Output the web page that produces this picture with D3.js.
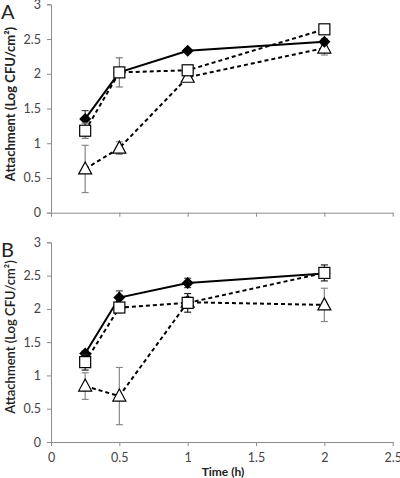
<!DOCTYPE html>
<html><head><meta charset="utf-8">
<script src="https://cdn.jsdelivr.net/npm/d3@7"></script>
<style>body{margin:0;background:#fff}svg{display:block}</style>
</head><body>
<svg id="c" width="400" height="478"></svg>
<script>
const times = [0.25, 0.5, 1, 2];
const xTicks = [0, 0.5, 1, 1.5, 2, 2.5];
const yTicks = [0, 0.5, 1, 1.5, 2, 2.5, 3];
// Panel A
const aDiamond = [1.35, 2.02, 2.33, 2.46];
const aDiamondErr = [0.12, 0.05, 0.03, 0.04];
const aSquare = [1.18, 2.02, 2.05, 2.64];
const aSquareErr = [0.11, 0.21, 0.07, 0.03];
const aTriangle = [0.63, 0.93, 1.95, 2.37];
const aTriangleErr = [0.34, 0.09, 0.06, 0.1];
// Panel B
const bDiamond = [1.33, 2.17, 2.39, 2.53];
const bDiamondErr = [0.04, 0.1, 0.07, 0.05];
const bSquare = [1.2, 2.02, 2.09, 2.54];
const bSquareErr = [0.12, 0.04, 0.14, 0.12];
const bTriangle = [0.84, 0.69, 2.1, 2.06];
const bTriangleErr = [0.2, 0.43, 0.08, 0.25];

const svg = d3.select("#c");
const font = "Lato, 'Open Sans', sans-serif";
const x = d3.scaleLinear().domain([0, 2.5]).range([51, 392.7]);

const panels = [
  {label: "A", top: 4.3, bottom: 212.7, showX: false, bold: true,
   title: "Attachment  (Log CFU/cm²)", tx: 10, ty: 104,
   series: [
     {v: aTriangle, e: aTriangleErr, shape: "tri", dash: "4,3", ec: "#888"},
     {v: aDiamond, e: aDiamondErr, shape: "dia", dash: null, ec: "#444"},
     {v: aSquare, e: aSquareErr, shape: "sq", dash: "4,3", ec: "#777"}]},
  {label: "B", top: 242.3, bottom: 442, showX: true, bold: false,
   title: "Attachment (Log CFU/cm²)", tx: 10, ty: 337,
   series: [
     {v: bTriangle, e: bTriangleErr, shape: "tri", dash: "4,3", ec: "#888"},
     {v: bDiamond, e: bDiamondErr, shape: "dia", dash: null, ec: "#444"},
     {v: bSquare, e: bSquareErr, shape: "sq", dash: "4,3", ec: "#222"}]}
];

panels.forEach(p => {
  const y = d3.scaleLinear().domain([0, 3]).range([p.bottom, p.top]);
  const g = svg.append("g");
  const ya = g.append("g").attr("transform", `translate(${x(0)},0)`)
    .call(d3.axisLeft(y).tickValues(yTicks).tickSize(4).tickPadding(6).tickFormat(d3.format("")));
  ya.select(".domain").attr("stroke", "#8c8c8c");
  ya.selectAll(".tick line").attr("stroke", "#8c8c8c");
  ya.selectAll("text").attr("font-family", font).attr("font-size", 12.5).attr("fill", "#444");
  const xa = g.append("g").attr("transform", `translate(0,${p.bottom})`)
    .call(d3.axisBottom(x).tickValues(xTicks).tickSize(4).tickPadding(7).tickSizeOuter(0).tickFormat(p.showX ? d3.format("") : () => ""));
  xa.select(".domain").attr("stroke", "#8c8c8c");
  xa.selectAll(".tick line").attr("stroke", "#8c8c8c");
  xa.selectAll("text").attr("font-family", font).attr("font-size", 12.5).attr("fill", "#444");

  g.append("text").attr("x", 1).attr("y", p.top + 15).text(p.label)
    .attr("font-family", font).attr("font-size", 20).attr("fill", "#222");
  g.append("text").attr("transform", `translate(${p.tx},${p.ty}) rotate(-90)`)
    .attr("text-anchor", "middle").attr("dominant-baseline", "central")
    .attr("font-family", font).attr("font-size", 13)
    .attr("font-weight", p.bold ? "bold" : "600").attr("fill", "#222")
    .text(p.title);

  const line = d3.line().x((d, i) => x(times[i])).y(d => y(d));
  p.series.forEach(s => {
    g.append("path").datum(s.v).attr("d", line).attr("fill", "none")
      .attr("stroke", "#000").attr("stroke-width", 2)
      .attr("stroke-dasharray", s.dash);
  });
  p.series.forEach(s => {
    const eg = g.append("g");
    s.v.forEach((v, i) => {
      const cx = x(times[i]);
      const y1 = y(v - s.e[i]), y2 = y(v + s.e[i]);
      eg.append("line").attr("x1", cx).attr("x2", cx).attr("y1", y1).attr("y2", y2).attr("stroke", s.ec).attr("stroke-width", 1.2);
      [y1, y2].forEach(yy => eg.append("line").attr("x1", cx - 3.5).attr("x2", cx + 3.5).attr("y1", yy).attr("y2", yy).attr("stroke", s.ec).attr("stroke-width", 1.2));
    });
    s.v.forEach((v, i) => {
      const cx = x(times[i]), cy = y(v);
      if (s.shape === "dia") {
        g.append("path").attr("d", `M${cx},${cy-6}L${cx+6},${cy}L${cx},${cy+6}L${cx-6},${cy}Z`).attr("fill", "#000");
      } else if (s.shape === "sq") {
        g.append("rect").attr("x", cx - 5.5).attr("y", cy - 5.5).attr("width", 11).attr("height", 11)
          .attr("fill", "#fff").attr("stroke", "#000").attr("stroke-width", 1.2);
      } else {
        g.append("path").attr("d", `M${cx},${cy-7}L${cx+6.5},${cy+5}L${cx-6.5},${cy+5}Z`)
          .attr("fill", "#fff").attr("stroke", "#000").attr("stroke-width", 1.2);
      }
    });
  });
});

svg.append("text").attr("x", 223).attr("y", 476).attr("text-anchor", "middle")
  .attr("font-family", font).attr("font-size", 12).attr("font-weight", "bold").attr("fill", "#222")
  .text("Time (h)");
</script>
</body></html>
